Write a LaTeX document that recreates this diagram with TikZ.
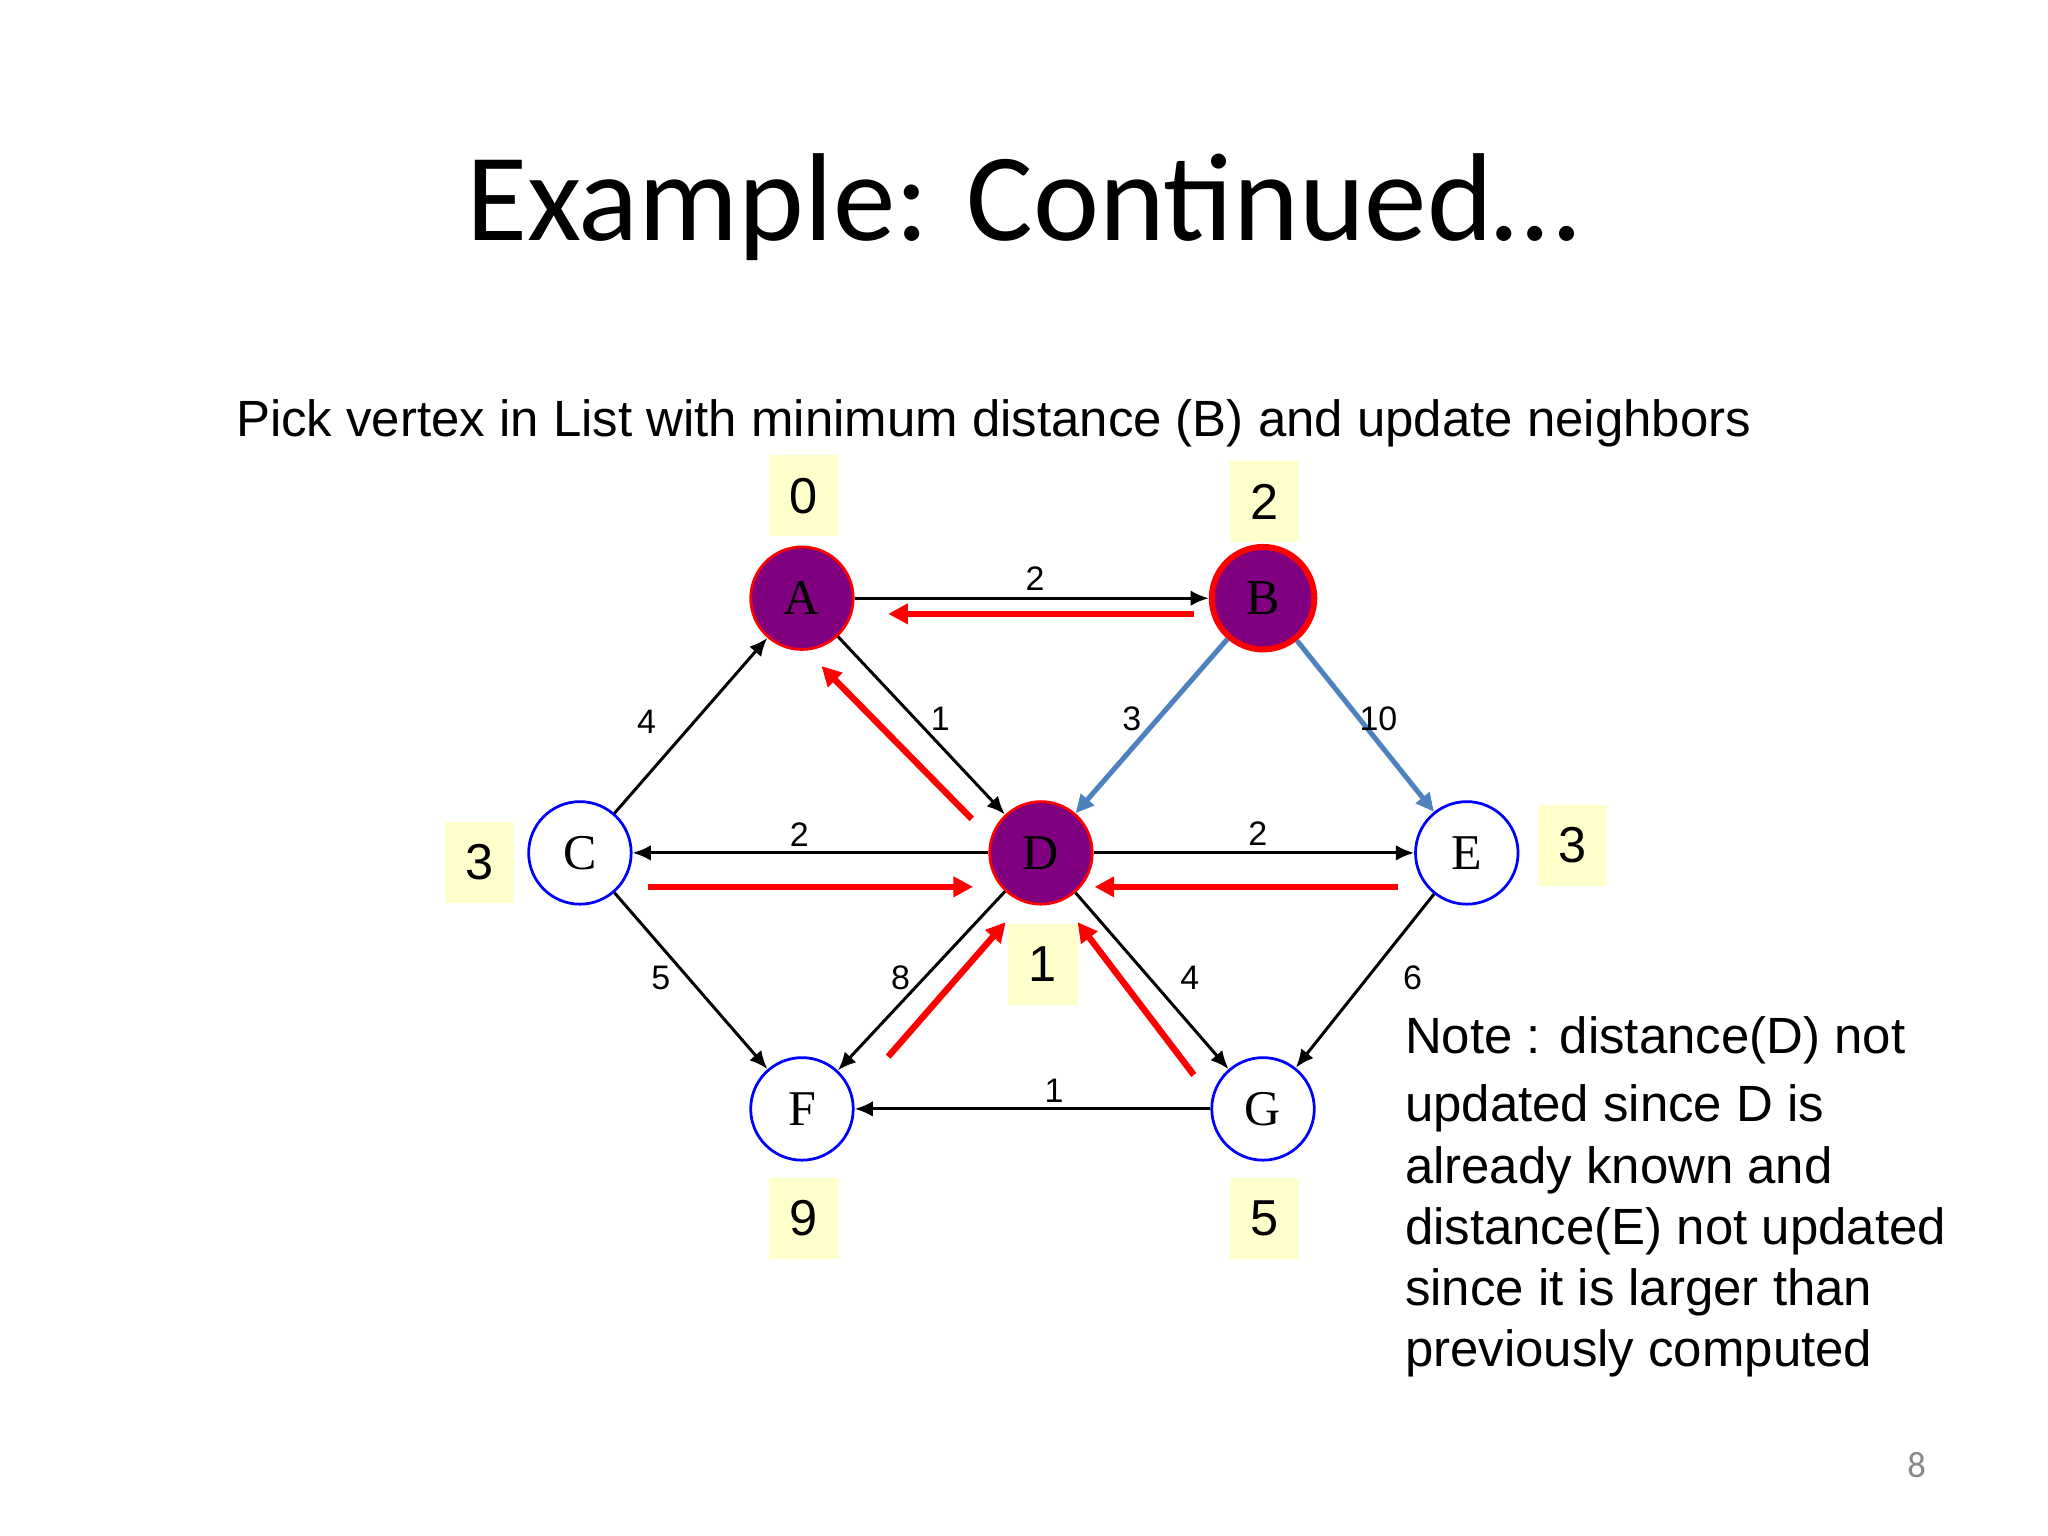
\documentclass[tikz,border=0pt]{standalone}
\usepackage{fontspec}
\setmainfont{Liberation Sans}
\newfontfamily\slidefont{Carlito}
\newfontfamily\vertexfont{Liberation Serif}
\usetikzlibrary{arrows.meta,positioning}

\definecolor{vpurple}{RGB}{128,0,128}
\definecolor{distyellow}{RGB}{255,255,204}
\definecolor{updblue}{RGB}{79,129,189}
\definecolor{pagegray}{RGB}{137,137,137}

\begin{document}
\begin{tikzpicture}[
  vertex/.style={circle,inner sep=0pt,minimum size=0.785cm,line width=0.6pt,font=\vertexfont\fontsize{10.9}{12}\selectfont},
  seen/.style={vertex,draw=red,fill=vpurple},
  picked/.style={seen,line width=1.3pt},
  unseen/.style={vertex,draw=blue,fill=white},
  dist/.style={rectangle,fill=distyellow,minimum width=0.53cm,minimum height=0.62cm,inner sep=0pt,font=\fontsize{11}{13}\selectfont},
  link/.style={-{Latex[length=0.14cm,width=0.12cm]},line width=0.65pt},
  upd/.style={-{Triangle[length=0.14cm,width=0.13cm]},line width=1.1pt,draw=updblue},
  hint/.style={-{Triangle[length=0.15cm,width=0.15cm]},line width=1.4pt,draw=red},
  wt/.style={inner sep=0pt,font=\fontsize{7.4}{8}\selectfont}]
\useasboundingbox (0,0) rectangle (15.68,-11.76);

\node (title) at (7.83,-1.84) [anchor=base,font=\slidefont\fontsize{27.25}{32}\selectfont] {Example: Continued…};
\node (task) at (1.80,-3.345) [anchor=base west,inner sep=0pt,font=\fontsize{11.1}{13}\selectfont]
{Pick vertex in List with minimum distance (B) and update neighbors};

% vertices
\node (A) at (6.14,-4.58) [seen] {A};
\node (B) at (9.67,-4.58) [picked] {B};
\node (C) at (4.44,-6.53) [unseen] {C};
\node (D) at (7.97,-6.53) [seen] {D};
\node (E) at (11.23,-6.53) [unseen] {E};
\node (F) at (6.14,-8.49) [unseen] {F};
\node (G) at (9.67,-8.49) [unseen] {G};

% distances
\node (dA) at (6.155,-3.795) [dist] {0};
\node (dB) at (9.68,-3.84) [dist] {2};
\node (dC) at (3.67,-6.60) [dist] {3};
\node (dD) at (7.985,-7.385) [dist] {1};
\node (dE) at (12.04,-6.47) [dist] {3};
\node (dF) at (6.155,-9.33) [dist] {9};
\node (dG) at (9.68,-9.33) [dist] {5};

% weighted edges
\draw[link] (A) -- (B) node[wt,midway,xshift=0.025cm,yshift=0.15cm] {2};
\draw[link] (C) -- (A) node[wt,midway,xshift=-0.34cm,yshift=0.025cm] {4};
\draw[link] (A) -- (D) node[wt,midway,xshift=0.145cm,yshift=0.055cm] {1};
\draw[upd] (B) -- (D) node[wt,midway,xshift=-0.15cm,yshift=0.055cm] {3};
\draw[upd] (B) -- (E) node[wt,midway,xshift=0.10cm,yshift=0.055cm] {10};
\draw[link] (D) -- (C) node[wt,midway,xshift=-0.085cm,yshift=0.14cm] {2};
\draw[link] (D) -- (E) node[wt,midway,xshift=0.03cm,yshift=0.15cm] {2};
\draw[link] (C) -- (F) node[wt,midway,xshift=-0.23cm,yshift=0.02cm] {5};
\draw[link] (D) -- (F) node[wt,midway,xshift=-0.16cm,yshift=0.02cm] {8};
\draw[link] (D) -- (G) node[wt,midway,xshift=0.29cm,yshift=0.02cm] {4};
\draw[link] (E) -- (G) node[wt,midway,xshift=0.365cm,yshift=0.02cm] {6};
\draw[link] (G) -- (F) node[wt,midway,xshift=0.165cm,yshift=0.14cm] {1};

% red hints towards the known vertices
\coordinate (ba1) at (9.14,-4.70);
\coordinate (ba2) at (6.80,-4.70);
\coordinate (da1) at (7.44,-6.27);
\coordinate (da2) at (6.29,-5.10);
\coordinate (cd1) at (4.96,-6.79);
\coordinate (cd2) at (7.45,-6.79);
\coordinate (ed1) at (10.70,-6.79);
\coordinate (ed2) at (8.38,-6.79);
\coordinate (fd1) at (6.80,-8.09);
\coordinate (fd2) at (7.70,-7.06);
\coordinate (gd1) at (9.14,-8.23);
\coordinate (gd2) at (8.25,-7.06);
\draw[hint] (ba1) -- (ba2);
\draw[hint] (da1) -- (da2);
\draw[hint] (cd1) -- (cd2);
\draw[hint] (ed1) -- (ed2);
\draw[hint] (fd1) -- (fd2);
\draw[hint] (gd1) -- (gd2);

\node (note) at (10.75,-10.46) [anchor=base west,align=left,inner sep=0pt,font=\fontsize{11.1}{13.3}\selectfont]
{Note : distance(D) not\\[0.055cm]updated since D is\\already known and\\distance(E) not updated\\since it is larger than\\previously computed};

\node (page) at (14.675,-11.31) [anchor=base,text=pagegray,font=\slidefont\fontsize{8}{10}\selectfont] {8};
\end{tikzpicture}
\end{document}
